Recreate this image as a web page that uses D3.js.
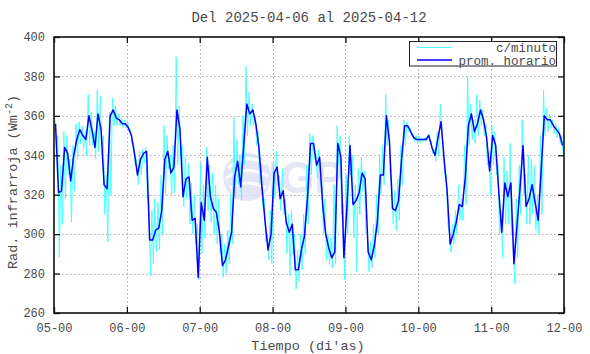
<!DOCTYPE html>
<html><head><meta charset="utf-8">
<script src="https://cdn.jsdelivr.net/npm/d3@7"></script>
<style>body{margin:0;background:#fff}svg{display:block}</style>
</head><body>
<svg id="chart" width="590" height="354"></svg>
<script>
// ---- data ----
const titulo = "Del 2025-04-06 al 2025-04-12";
const tickLabels = ["05-00","06-00","07-00","08-00","09-00","10-00","11-00","12-00"];
const yTicks = [260,280,300,320,340,360,380,400];

// hourly average (prom. horario), one value per hour, per day
const prom05 = [356,321,322,344,341,327,340,348,353,350,348,360,353,344,361,353,325,323,360,363,359,358,356,356];
const prom06 = [354,350,341,330,338,341,342,297,297,302,303,312,338,342,331,334,363,353,319,328,329,307,308,278];
const prom07 = [316,307,339,319,313,311,301,284,287,294,301,329,337,324,345,366,361,363,356,344,324,307,292,300];
const prom08 = [331,334,318,322,306,301,305,282,282,292,299,318,346,346,335,339,315,300,293,288,291,346,339,288];
const prom09 = [314,345,315,317,321,331,328,291,287,294,306,330,330,360,347,313,312,317,338,355,355,352,349,348];
const prom10 = [348,348,348,350,344,340,349,357,338,322,295,300,306,315,314,329,355,361,352,356,363,358,349,332];
const prom11 = [350,345,322,301,326,319,326,285,304,323,345,314,318,325,316,307,333,360,358,358,355,353,351,345];

// per-minute data (c/minuto): hourly max and min of the minute readings
const max05 = [360,350,335,352,350,338,345,356,357,355,352,371,362,352,373,370,350,330,362,369,365,361,359,358];
const min05 = [345,288,305,318,330,306,322,338,346,343,340,345,345,338,342,345,310,296,320,355,355,355,354,354];
const max06 = [357,353,346,338,342,343,344,320,312,318,316,330,355,350,340,345,390,365,345,339,336,326,320,305];
const min06 = [352,346,335,325,330,336,318,279,285,291,292,300,320,333,320,321,335,340,314,318,305,300,295,277];
const max07 = [336,325,344,335,331,325,318,300,295,302,320,359,348,340,360,385,372,366,360,352,335,318,300,312];
const min07 = [290,298,312,306,300,295,290,278,280,285,295,318,325,317,335,350,355,355,345,325,314,296,287,285];
const max08 = [336,342,330,333,318,310,312,300,292,300,310,335,351,350,341,343,325,318,300,298,325,355,350,315];
const min08 = [318,325,312,310,290,279,290,272,276,282,290,305,330,338,328,325,300,287,285,283,285,335,310,277];
const max09 = [330,350,340,325,333,339,332,300,296,305,320,340,345,371,358,325,322,328,345,358,357,354,351,350];
const min09 = [300,330,298,281,310,322,300,281,283,288,300,320,325,345,330,305,302,307,325,345,352,350,347,346];
const max10 = [350,349,349,351,347,343,352,366,345,330,300,305,312,325,318,345,380,366,358,371,368,363,356,342];
const min10 = [346,347,347,347,341,337,340,350,330,305,291,295,300,307,307,315,345,348,346,350,355,350,335,320];
const max11 = [355,352,335,312,339,332,346,305,318,335,358,330,340,338,335,320,350,373,364,361,358,356,354,350];
const min11 = [335,330,300,288,305,305,300,275,288,310,320,305,305,310,302,300,310,350,352,354,351,349,346,340];

const legendLabels = ["c/minuto", "prom. horario"];
const colCyan = "#3cffff", colBlue = "#0000ff";

// ---- layout ----
const W = 590, H = 354;
const m = {left: 54, right: 564, top: 37, bottom: 313};
const font = "'Liberation Mono','DejaVu Sans Mono',monospace";
const txtCol = "#4a4a4a";

const svg = d3.select("#chart");
const x = d3.scaleLinear().domain([0, 168]).range([m.left, m.right]);
const y = d3.scaleLinear().domain([260, 400]).range([m.bottom, m.top]);

const prom = [].concat(prom05, prom06, prom07, prom08, prom09, prom10, prom11);
const maxs = [].concat(max05, max06, max07, max08, max09, max10, max11);
const mins = [].concat(min05, min06, min07, min08, min09, min10, min11);

svg.append("rect").attr("width", W).attr("height", H).attr("fill", "#fff");

svg.append("defs").append("clipPath").attr("id", "clip")
  .append("rect").attr("x", m.left).attr("y", m.top)
  .attr("width", m.right - m.left).attr("height", m.bottom - m.top);

// grid
const xTickVals = tickLabels.map((d, i) => i * 24);
const grid = svg.append("g").attr("stroke", "#a8a8a8").attr("stroke-width", 1)
  .attr("stroke-dasharray", "1.5,2.5");
grid.selectAll(".gx").data(xTickVals.slice(1, -1)).join("line")
  .attr("x1", d => Math.round(x(d)) + 0.5).attr("x2", d => Math.round(x(d)) + 0.5)
  .attr("y1", m.top).attr("y2", m.bottom);
grid.selectAll(".gy").data(yTicks.slice(1, -1)).join("line")
  .attr("y1", d => Math.round(y(d)) + 0.5).attr("y2", d => Math.round(y(d)) + 0.5)
  .attr("x1", m.left).attr("x2", m.right);

// watermark
const wm = svg.append("g").attr("opacity", 0.75);
wm.append("circle").attr("cx", 247).attr("cy", 177).attr("r", 24).attr("fill", "#dcdef6");
wm.append("path").attr("d", "M228,168 q18,-16 38,-4 M226,178 q20,-14 42,-2 M230,188 q18,-10 36,0")
  .attr("stroke", "#ffffff").attr("stroke-width", 3).attr("fill", "none");
wm.append("text").attr("x", 268).attr("y", 193).attr("font-family", "'Liberation Sans',Arial,sans-serif")
  .attr("font-weight", "bold").attr("font-size", 44).attr("fill", "#dcdef6").text("IGP");

// data
const plot = svg.append("g").attr("clip-path", "url(#clip)");
const cyanPts = [];
maxs.forEach((v, i) => { cyanPts.push([i + 0.25, v]); cyanPts.push([i + 0.75, mins[i]]); });
plot.append("path").datum(cyanPts)
  .attr("d", d3.line().x(d => x(d[0])).y(d => y(d[1])))
  .attr("fill", "none").attr("stroke", colCyan).attr("stroke-width", 0.9);
plot.append("path").datum(prom.map((v, i) => [i + 0.5, v]))
  .attr("d", d3.line().x(d => x(d[0])).y(d => y(d[1])))
  .attr("fill", "none").attr("stroke", colBlue).attr("stroke-width", 1.5)
  .attr("stroke-linejoin", "round");

// frame
svg.append("rect").attr("x", m.left).attr("y", m.top)
  .attr("width", m.right - m.left).attr("height", m.bottom - m.top)
  .attr("fill", "none").attr("stroke", "#111").attr("stroke-width", 1.6);

// axes (inward ticks, gnuplot style)
const tickLen = 6;
const xAxB = d3.axisBottom(x).tickValues(xTickVals).tickFormat((d, i) => tickLabels[i])
  .tickSizeInner(-tickLen).tickSizeOuter(0).tickPadding(10);
const gxB = svg.append("g").attr("transform", `translate(0,${m.bottom})`).call(xAxB);
const xAxT = d3.axisTop(x).tickValues(xTickVals).tickFormat("").tickSizeInner(-tickLen).tickSizeOuter(0);
const gxT = svg.append("g").attr("transform", `translate(0,${m.top})`).call(xAxT);
const yAxL = d3.axisLeft(y).tickValues(yTicks).tickFormat(d3.format("d"))
  .tickSizeInner(-tickLen).tickSizeOuter(0).tickPadding(9);
const gyL = svg.append("g").attr("transform", `translate(${m.left},0)`).call(yAxL);
const yAxR = d3.axisRight(y).tickValues(yTicks).tickFormat("").tickSizeInner(-tickLen).tickSizeOuter(0);
const gyR = svg.append("g").attr("transform", `translate(${m.right},0)`).call(yAxR);
[gxB, gxT, gyL, gyR].forEach(g => {
  g.select(".domain").remove();
  g.selectAll(".tick line").attr("stroke", "#111").attr("stroke-width", 1.3);
  g.selectAll("text").attr("font-family", font).attr("font-size", 12).attr("fill", txtCol);
});

// titles
svg.append("text").attr("x", 309).attr("y", 22).attr("text-anchor", "middle")
  .attr("font-family", font).attr("font-size", 14).attr("fill", txtCol).text(titulo);
svg.append("text").attr("x", 308).attr("y", 350).attr("text-anchor", "middle")
  .attr("font-family", font).attr("font-size", 13.5).attr("fill", txtCol).text("Tiempo (di'as)");
const yl = svg.append("text").attr("transform", "translate(17,182) rotate(-90)")
  .attr("text-anchor", "middle").attr("font-family", font).attr("font-size", 13.5).attr("fill", txtCol);
yl.append("tspan").text("Rad. infrarroja (Wm");
yl.append("tspan").attr("dy", -5).attr("font-size", 10).text("-2");
yl.append("tspan").attr("dy", 5).text(")");

// legend
const lg = svg.append("g");
lg.append("rect").attr("x", 409.5).attr("y", 41.5).attr("width", 147).attr("height", 24.5)
  .attr("fill", "#fff").attr("stroke", "#222").attr("stroke-width", 1);
[colCyan, colBlue].forEach((c, i) => {
  const yy = 47.5 + i * 12.5;
  lg.append("line").attr("x1", 417).attr("x2", 452).attr("y1", yy).attr("y2", yy)
    .attr("stroke", c).attr("stroke-width", i ? 1.5 : 0.9);
  lg.append("text").attr("x", 556).attr("y", yy + 4.5).attr("text-anchor", "end")
    .attr("font-family", font).attr("font-size", 12.5).attr("fill", txtCol).text(legendLabels[i]);
});
</script>
</body></html>
